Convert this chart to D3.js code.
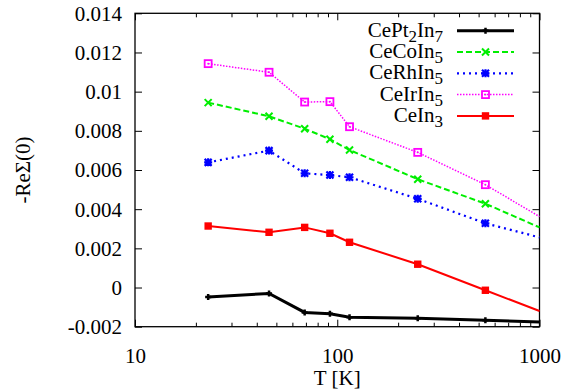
<!DOCTYPE html>
<html>
<head>
<meta charset="utf-8">
<script src="https://cdn.jsdelivr.net/npm/d3@7"></script>
<style>
  body { margin: 0; background: #fff; }
  text { font-family: "Liberation Serif", "Times New Roman", serif; fill: #000; }
</style>
</head>
<body>
<script>
// data
const temps = [23, 46, 69, 92, 115, 250, 540, 1000];

const cePt2In7 = [-0.00048, -0.00030, -0.00127, -0.00134, -0.00152, -0.00157, -0.00167, -0.00176];
const ceCoIn5  = [0.00944, 0.00874, 0.00811, 0.00757, 0.00702, 0.00553, 0.00428, 0.00307];
const ceRhIn5  = [0.00639, 0.00699, 0.00583, 0.00574, 0.00563, 0.00453, 0.00328, 0.00256];
const ceIrIn5  = [0.01143, 0.01099, 0.00947, 0.00949, 0.00821, 0.00690, 0.00525, 0.00362];
const ceIn3    = [0.00314, 0.00282, 0.00307, 0.00277, 0.00231, 0.00119, -0.00014, -0.00120];

const seriesNames = ["CePt_2In_7", "CeCoIn_5", "CeRhIn_5", "CeIrIn_5", "CeIn_3"];
const xTicks = [10, 100, 1000];
const xMinor = [20, 30, 40, 50, 60, 70, 80, 90, 200, 300, 400, 500, 600, 700, 800, 900];
const yTicks = [-0.002, 0, 0.002, 0.004, 0.006, 0.008, 0.01, 0.012, 0.014];

// layout
const W = 572, H = 392;
const plotL = 135, plotT = 13.3, plotR = 539.5, plotB = 326.7;
const pw = plotR - plotL, ph = plotB - plotT;

const styles = [
  {color: "#000000", width: 3,   dash: null,    mark: "plus"},
  {color: "#00ee00", width: 2,   dash: "6,3",   mark: "cross"},
  {color: "#0000ff", width: 2.2, dash: "2,4",   mark: "star"},
  {color: "#ff00ff", width: 1.5, dash: "1.5,1.5", mark: "box"},
  {color: "#ff0000", width: 2,   dash: null,    mark: "square"}
];

const allSeries = [cePt2In7, ceCoIn5, ceRhIn5, ceIrIn5, ceIn3];

const x = d3.scaleLog().domain([10, 1000]).range([0, pw]);
const y = d3.scaleLinear().domain([-0.002, 0.014]).range([ph, 0]);

const svg = d3.select("body").append("svg")
    .attr("width", W).attr("height", H);

const g = svg.append("g").attr("transform", `translate(${plotL},${plotT})`);

const fmt = d => String(+d.toFixed(3));

// axes, ticks pointing inward like gnuplot
g.append("g").attr("class", "yaxis")
    .call(d3.axisLeft(y).tickValues(yTicks).tickSize(-7).tickPadding(13).tickFormat(fmt));
g.append("g").attr("transform", `translate(${pw},0)`)
    .call(d3.axisRight(y).tickValues(yTicks).tickSize(-7).tickFormat(""));

g.append("g").attr("class", "xaxis").attr("transform", `translate(0,${ph})`)
    .call(d3.axisBottom(x).tickValues(xTicks).tickSize(-7).tickPadding(21).tickFormat(d3.format("d")));
g.append("g").attr("transform", `translate(0,${ph})`)
    .call(d3.axisBottom(x).tickValues(xMinor).tickSize(-4).tickFormat(""));
g.append("g")
    .call(d3.axisTop(x).tickValues(xTicks).tickSize(-7).tickFormat(""));
g.append("g")
    .call(d3.axisTop(x).tickValues(xMinor).tickSize(-4).tickFormat(""));

g.selectAll(".domain").remove();
g.selectAll(".tick line").attr("stroke", "#000").attr("stroke-width", 1);
g.selectAll(".tick text").style("font-size", "21px")
    .style("font-family", "'Liberation Serif', 'Times New Roman', serif").attr("fill", "#000");
g.selectAll(".yaxis .tick text").attr("dy", "0.33em");

g.append("rect").attr("width", pw).attr("height", ph)
    .attr("fill", "none").attr("stroke", "#000").attr("stroke-width", 1.3);

// markers
function drawMark(sel, type, color) {
  if (type === "plus") {
    sel.append("path").attr("d", "M-3,0H3M0,-3V3").attr("stroke", color).attr("stroke-width", 2.5);
  } else if (type === "cross") {
    sel.append("path").attr("d", "M-3.5,-3.5L3.5,3.5M-3.5,3.5L3.5,-3.5").attr("stroke", color).attr("stroke-width", 2);
  } else if (type === "star") {
    sel.append("path").attr("d", "M-3.5,-3.5L3.5,3.5M-3.5,3.5L3.5,-3.5M-4,0H4M0,-4V4")
        .attr("stroke", color).attr("stroke-width", 2.2);
  } else if (type === "box") {
    sel.append("rect").attr("x", -3.5).attr("y", -3.5).attr("width", 7).attr("height", 7)
        .attr("fill", "none").attr("stroke", color).attr("stroke-width", 1.8);
    sel.append("rect").attr("x", -0.8).attr("y", -0.8).attr("width", 1.6).attr("height", 1.6).attr("fill", color);
  } else {
    sel.append("rect").attr("x", -3.7).attr("y", -3.7).attr("width", 7.4).attr("height", 7.4).attr("fill", color);
  }
}

const line = d3.line().x(d => x(d.t)).y(d => y(d.v));

allSeries.forEach((vals, i) => {
  const st = styles[i];
  const pts = temps.map((t, j) => ({t: t, v: vals[j]}));
  g.append("path").datum(pts)
      .attr("d", line)
      .attr("fill", "none")
      .attr("stroke", st.color)
      .attr("stroke-width", st.width)
      .attr("stroke-dasharray", st.dash);
  // points sitting on the right border are not drawn (out of range in the original)
  g.selectAll(".m" + i).data(pts.filter(d => d.t < 1000)).enter()
      .append("g").attr("class", "m" + i)
      .attr("transform", d => `translate(${x(d.t)},${y(d.v)})`)
      .each(function() { drawMark(d3.select(this), st.mark, st.color); });
});

// legend
const legY0 = 30.7, legStep = 21.3;
seriesNames.forEach((name, i) => {
  const st = styles[i];
  const ly = legY0 + i * legStep;
  const txt = svg.append("text")
      .attr("x", 443).attr("y", ly + 6)
      .attr("text-anchor", "end")
      .style("font-size", "21px");
  name.split(/(_\d)/).filter(s => s.length).forEach(part => {
    if (part[0] === "_") {
      txt.append("tspan").attr("dy", 5).style("font-size", "17px").text(part.slice(1));
    } else {
      const ts = txt.append("tspan").text(part);
      if (txt.selectAll("tspan").size() > 1) ts.attr("dy", -5);
    }
  });
  svg.append("line")
      .attr("x1", 457).attr("x2", 514).attr("y1", ly).attr("y2", ly)
      .attr("stroke", st.color).attr("stroke-width", st.width)
      .attr("stroke-dasharray", st.dash);
  drawMark(svg.append("g").attr("transform", `translate(485.5,${ly})`), st.mark, st.color);
});

// axis titles
svg.append("text")
    .attr("x", plotL + pw / 2).attr("y", 385)
    .attr("text-anchor", "middle").style("font-size", "21px")
    .text("T [K]");

svg.append("text")
    .attr("transform", `translate(30,${plotT + ph / 2}) rotate(-90)`)
    .attr("text-anchor", "middle").style("font-size", "21px")
    .text("-ReΣ(0)");
</script>
</body>
</html>
